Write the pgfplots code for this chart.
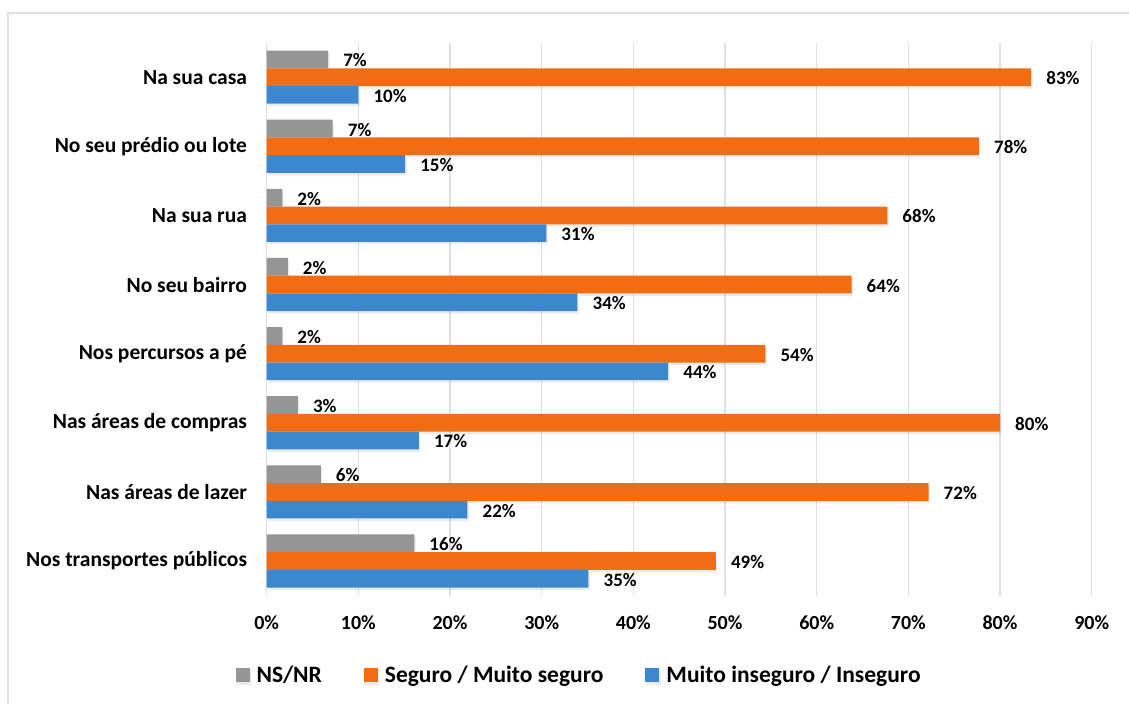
\documentclass[border=0pt]{standalone}
\usepackage{fontspec}
\setmainfont{Carlito}
\usepackage{pgfplots}
\pgfplotsset{compat=1.18}
\usetikzlibrary{shadows}

\definecolor{grayM}{HTML}{959595}
\definecolor{orangeM}{HTML}{F06D14}
\definecolor{blueM}{HTML}{3D87CE}
\definecolor{gridc}{HTML}{DCE0E8}

\begin{document}
\begin{tikzpicture}[x=1pt,y=1pt]
\useasboundingbox (0,0) rectangle (1129,704);
\draw[gridc, line width=1.2pt] (8,0) -- (8,691) -- (1129,691);
\begin{axis}[
    at={(266.7pt,108.4pt)}, anchor=south west,
    scale only axis, width=825pt, height=553pt,
    xbar, bar width=17.7pt,
    xmin=0, xmax=90, ymin=-0.5, ymax=7.5,
    clip=false,
    axis line style={draw=none},
    major tick length=0pt,
    xmajorgrids, grid style={gridc, line width=1.3pt},
    xtick={0,10,...,90},
    xticklabels={0\%,10\%,20\%,30\%,40\%,50\%,60\%,70\%,80\%,90\%},
    ytick={0,...,7},
    yticklabels={Nos transportes públicos, Nas áreas de lazer, Nas áreas de compras,
        Nos percursos a pé, No seu bairro, Na sua rua, No seu prédio ou lote, Na sua casa},
    xticklabel style={font=\fontsize{20}{24}\selectfont\bfseries, anchor=center, inner sep=0pt, yshift=-27pt},
    yticklabel style={font=\fontsize{21.5}{25}\selectfont\bfseries, anchor=east, inner sep=0pt, xshift=-19.5pt},
    point meta=explicit symbolic,
    nodes near coords,
    nodes near coords style={font=\fontsize{19}{22}\selectfont\bfseries, anchor=west, inner sep=0pt, xshift=15pt, yshift=-1pt, black},
    legend columns=-1,
    legend image code/.code={\fill[#1] (0pt,-7pt) rectangle (14pt,7pt);},
    legend style={at={(0.3786,-0.1436)}, anchor=center, draw=none, fill=none,
        font=\fontsize{23.5}{27}\selectfont\bfseries,
        /tikz/every odd column/.append style={column sep=5pt},
        /tikz/every even column/.append style={column sep=40pt}},
    every axis plot/.append style={draw=none, drop shadow={shadow xshift=1.5pt, shadow yshift=-2.5pt, opacity=0.15}},
]
% NS/NR
\addplot[bar shift=17.7pt, fill=grayM] coordinates {
    (6.7,7) [7\%] (7.2,6) [7\%] (1.7,5) [2\%] (2.3,4) [2\%]
    (1.7,3) [2\%] (3.4,2) [3\%] (5.9,1) [6\%] (16.1,0) [16\%]};
% Seguro / Muito seguro
\addplot[bar shift=0pt, fill=orangeM] coordinates {
    (83.4,7) [83\%] (77.7,6) [78\%] (67.7,5) [68\%] (63.8,4) [64\%]
    (54.4,3) [54\%] (80.0,2) [80\%] (72.2,1) [72\%] (49.0,0) [49\%]};
% Muito inseguro / Inseguro
\addplot[bar shift=-17.7pt, fill=blueM] coordinates {
    (10.0,7) [10\%] (15.1,6) [15\%] (30.5,5) [31\%] (33.9,4) [34\%]
    (43.8,3) [44\%] (16.6,2) [17\%] (21.9,1) [22\%] (35.1,0) [35\%]};
\legend{NS/NR, Seguro / Muito seguro, Muito inseguro / Inseguro}
\end{axis}
\end{tikzpicture}
\end{document}
